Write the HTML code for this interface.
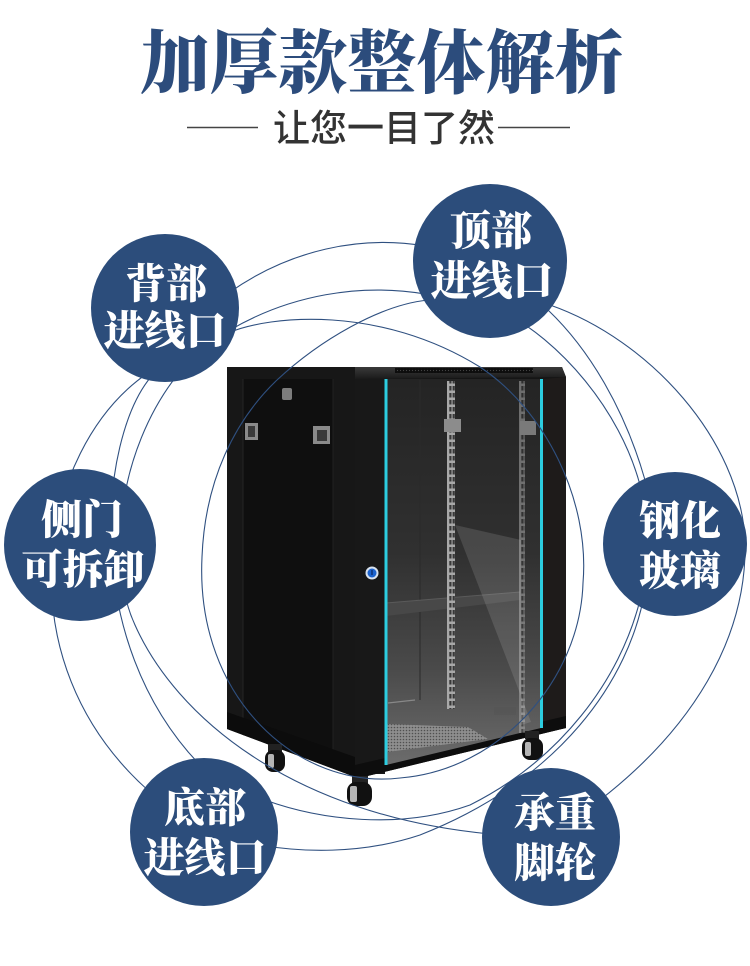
<!DOCTYPE html>
<html>
<head>
<meta charset="utf-8">
<style>
html,body{margin:0;padding:0;background:#ffffff;}
svg{display:block;}
.t{font-family:"Liberation Serif","Noto Serif CJK SC","Noto Serif CJK TC",serif;font-weight:900;}
.s{font-family:"Liberation Sans","Noto Sans CJK SC",sans-serif;font-weight:500;}
</style>
</head>
<body>
<svg width="750" height="966" viewBox="0 0 750 966" xmlns="http://www.w3.org/2000/svg">
<defs>
  <linearGradient id="glass" x1="0" y1="0" x2="0" y2="1">
    <stop offset="0" stop-color="#242424"/>
    <stop offset="0.45" stop-color="#303030"/>
    <stop offset="0.75" stop-color="#4a4a4a"/>
    <stop offset="1" stop-color="#6c6c6c"/>
  </linearGradient>
  <linearGradient id="topbar" x1="0" y1="0" x2="0" y2="1">
    <stop offset="0" stop-color="#3a3a3a"/>
    <stop offset="1" stop-color="#1a1a1a"/>
  </linearGradient>
  <pattern id="slots" width="8" height="7" patternUnits="userSpaceOnUse">
    <rect width="8" height="7" fill="#a8a8a8"/>
    <rect x="1.3" y="1" width="2.2" height="4.5" fill="#383838"/>
    <rect x="4.6" y="1" width="2.2" height="4.5" fill="#383838"/>
  </pattern>
  <pattern id="dots" width="3" height="3" patternUnits="userSpaceOnUse">
    <rect width="3" height="3" fill="#8e8e8e"/>
    <circle cx="1.5" cy="1.5" r="0.8" fill="#505050"/>
  </pattern>
  <pattern id="vent" width="3" height="3" patternUnits="userSpaceOnUse">
    <rect width="3" height="3" fill="#0d0d0d"/>
    <circle cx="1.5" cy="1.5" r="0.6" fill="#444"/>
  </pattern>
</defs>

<!-- Title -->
<text x="382" y="87" text-anchor="middle" font-size="69" fill="#2c4c7c" class="t">加厚款整体解析</text>
<line x1="187" y1="127.5" x2="258" y2="127.5" stroke="#444" stroke-width="1.6"/>
<line x1="498" y1="127.5" x2="570" y2="127.5" stroke="#444" stroke-width="1.6"/>
<text x="384" y="141" text-anchor="middle" font-size="37" fill="#333333" class="s">让您一目了然</text>

<!-- Cabinet -->
<polygon points="227,367 355,367 355,777 227,729" fill="#171717"/>
<polygon points="243,379 333,379 333,765 243,735" fill="#0f0f0f"/>
<line x1="243" y1="379" x2="243" y2="735" stroke="#242424" stroke-width="1"/>
<line x1="333" y1="379" x2="333" y2="765" stroke="#222" stroke-width="1"/>
<polygon points="227,712 355,757 355,777 227,729" fill="#0c0c0c"/>
<rect x="282" y="388" width="10" height="12" rx="2" fill="#7d7d7d"/>
<rect x="245" y="423" width="13" height="17" fill="#8a8a8a"/>
<rect x="248" y="426" width="7" height="11" fill="#3a3a3a"/>
<rect x="313" y="426" width="17" height="18" fill="#8a8a8a"/>
<rect x="317" y="430" width="10" height="11" fill="#3a3a3a"/>

<polygon points="355,367 562,367 566,377 566,728 355,779" fill="#151515"/>
<polygon points="355,367 562,367 566,377 355,379" fill="url(#topbar)"/>
<rect x="395" y="368" width="138" height="5" fill="url(#vent)"/>
<rect x="355" y="379" width="30" height="395" fill="#181818"/>
<polygon points="543,379 566,377 566,728 543,733" fill="#1e1b1a"/>
<polygon points="355,765 566,716 566,728 355,779" fill="#0d0d0d"/>

<polygon points="386,379 541,379 541,728 386,765" fill="url(#glass)"/>
<line x1="420" y1="380" x2="420" y2="700" stroke="#2a2a2a" stroke-width="1"/>
<polygon points="386,603 520,592 520,600 386,616" fill="#484848"/>
<line x1="386" y1="603" x2="520" y2="592" stroke="#5a5a5a" stroke-width="1"/>
<rect x="447" y="381" width="8" height="328" fill="url(#slots)"/>
<rect x="519" y="381" width="6" height="352" fill="url(#slots)" opacity="0.55"/>
<rect x="444" y="419" width="17" height="13" fill="#8c8c8c"/>
<rect x="520" y="421" width="16" height="14" fill="#7a7a7a"/>
<polygon points="455,525 521,540 521,725 531,722" fill="#ffffff" opacity="0.12"/>
<polygon points="387,724 468,727 488,739 387,752" fill="url(#dots)"/>
<line x1="388" y1="703" x2="415" y2="700" stroke="#888" stroke-width="1.2"/>
<rect x="494" y="707" width="22" height="8" fill="#555" opacity="0.7"/>
<rect x="384.5" y="379" width="3" height="386" fill="#2ccde0"/>
<rect x="540" y="379" width="3" height="349" fill="#2ccde0"/>
<circle cx="372" cy="573" r="6.5" fill="#d8e2ee"/>
<circle cx="372" cy="573" r="4.5" fill="#1b63cf"/>
<rect x="371.3" y="570" width="1.4" height="5" fill="#0b2f70"/>

<rect x="268" y="744" width="14" height="8" fill="#222"/>
<rect x="265" y="750" width="20" height="22" rx="8" fill="#111"/>
<rect x="268" y="754" width="6" height="14" rx="2" fill="#b5b5b5"/>
<rect x="352" y="776" width="16" height="8" fill="#222"/>
<rect x="347" y="782" width="25" height="24" rx="9" fill="#111"/>
<rect x="350" y="786" width="7" height="16" rx="2" fill="#b5b5b5"/>
<rect x="525" y="731" width="14" height="8" fill="#222"/>
<rect x="522" y="738" width="21" height="22" rx="8" fill="#111"/>
<rect x="525" y="742" width="6" height="14" rx="2" fill="#b5b5b5"/>

<!-- orbit lines -->
<g fill="none" stroke="#2f5080" stroke-width="1.1">
  <!-- left outer: 背部 -> 侧门 -> 底部 -->
  <path d="M145,375 C40,450 0,660 150,792"/>
  <!-- left b -->
  <path d="M150,378 C100,440 80,640 200,765"/>
  <!-- left c -> 承重 -->
  <path d="M175,378 C120,450 105,560 135,625 C175,715 290,815 490,834"/>
  <!-- top arcs 背部 -> 顶部 -->
  <path d="M230,292 C290,250 360,235 425,246"/>
  <path d="M230,330 C290,295 360,283 425,294"/>
  <!-- spiral around cabinet -->
  <path d="M228,333 C270,315 380,305 480,367 C545,410 590,500 583,583 C580,680 500,770 400,778 C300,790 195,700 202,557 C205,480 235,420 277,380 C320,340 380,305 428,300"/>
  <!-- right outer: 顶部 -> 钢化 -> 承重 -->
  <path d="M550,305 C650,340 740,440 745,540 C748,640 690,730 600,800"/>
  <!-- right line2: 顶部 -> 钢化 ; 钢化 -> 底部 -->
  <path d="M548,310 C590,350 625,410 645,480"/>
  <path d="M645,590 C630,680 560,780 420,835 C360,855 300,852 260,845"/>
  <!-- right line3 -->
  <path d="M500,310 C560,340 620,410 640,485"/>
  <path d="M640,600 C620,680 560,760 470,805 C400,830 320,820 265,800"/>
</g>

<!-- label circles -->
<g fill="#2c4d7b">
  <circle cx="165" cy="308" r="74"/>
  <circle cx="490" cy="261" r="77"/>
  <circle cx="80" cy="545" r="76"/>
  <circle cx="675" cy="544" r="72"/>
  <circle cx="204" cy="832" r="74"/>
  <circle cx="551" cy="837" r="69"/>
</g>
<g fill="#ffffff" font-size="41" text-anchor="middle" class="t">
  <text x="166" y="298">背部</text>
  <text x="165" y="345">进线口</text>
  <text x="491" y="245">顶部</text>
  <text x="492" y="295">进线口</text>
  <text x="82" y="534">侧门</text>
  <text x="83" y="584">可拆卸</text>
  <text x="680" y="535">钢化</text>
  <text x="680" y="585">玻璃</text>
  <text x="205" y="822">底部</text>
  <text x="205" y="872">进线口</text>
  <text x="555" y="827">承重</text>
  <text x="555" y="877">脚轮</text>
</g>
</svg>
</body>
</html>
